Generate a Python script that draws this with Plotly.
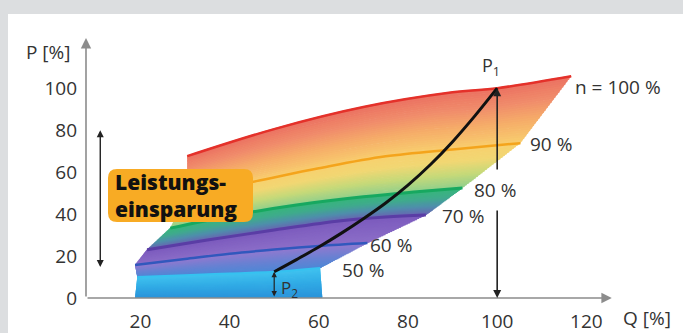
import numpy as np
import plotly.graph_objects as go

# ---------------- data ----------------
# speed curves n = const (Q in %, P in %)
q_base = [18.8, 30, 40, 50, 55, 60.8]
p_base = [0, 0, 0, 0, 0, 0]
q_50 = [19.3, 30, 40, 50, 55, 60.3]
p_50 = [10.0, 10.9, 11.7, 12.5, 13.3, 14.3]
q_60 = [18.8, 30, 40, 50, 60, 70.9]
p_60 = [15.7, 18.6, 21.1, 23.1, 24.8, 26.2]
q_70 = [21.5, 35, 50, 65, 75, 84.0]
p_70 = [23.0, 27.6, 32.4, 36.8, 38.6, 39.5]
q_80 = [26.7, 40, 55, 70, 82, 92.2]
p_80 = [33.3, 39.1, 44.3, 48.2, 50.6, 52.4]
q_90 = [30.5, 46, 60, 75, 90, 105.2]
p_90 = [49.0, 55.7, 61.8, 67.5, 70.8, 73.8]
q_100 = [30.5, 50, 70, 90, 100, 116.6]
p_100 = [67.6, 80.5, 91.0, 98.0, 100.0, 105.7]

# system curve P2 -> P1
q_sys = [50, 55, 60, 65, 70, 75, 80, 85, 90, 95, 100]
p_sys = [12.5, 18.3, 24.3, 30.8, 37.8, 45.3, 53.8, 63.5, 74.5, 86.8, 100.0]

speed_labels = ["50 %", "60 %", "70 %", "80 %", "90 %", "n = 100 %"]
x_ticks = [20, 40, 60, 80, 100, 120]
y_ticks = [0, 20, 40, 60, 80, 100]
savings_top, savings_bottom = 80, 14
point_p1 = (100, 100)
point_p2 = (50, 12.5)

# ---------------- styling ----------------
FONT = "Open Sans"
TXT = "#333333"
AXIS = "#8c8c8c"

# plot area in pixels
L, R, T, B = 86, 71, 38, 35
W, H = 683 - L - R, 333 - T - B
XPX = 4.4596   # px per % of Q
YPX = 2.0984   # px per % of P
x_range = [7.8, 7.8 + W / XPX]
y_range = [0, H / YPX]


def hex2rgb(h):
    h = h.lstrip("#")
    return np.array([int(h[i:i + 2], 16) for i in (0, 2, 4)], float)


def colour_at(stops, t):
    n = len(stops) - 1
    pos = t * n
    i = min(int(pos), n - 1)
    f = pos - i
    c = hex2rgb(stops[i]) * (1 - f) + hex2rgb(stops[i + 1]) * f
    return "rgb(%d,%d,%d)" % tuple(np.round(c))


fig = go.Figure()

bands = [
    (q_base, p_base, q_50, p_50, ["#2a93da", "#30aae5", "#40c3ef"]),
    (q_50, p_50, q_60, p_60, ["#4c88d6", "#6c80d2", "#9479cf"]),
    (q_60, p_60, q_70, p_70, ["#8c6ec8", "#7b5abd"]),
    (q_70, p_70, q_80, p_80, ["#6a62b2", "#4e8fab", "#3fac8b", "#37b67a"]),
    (q_80, p_80, q_90, p_90, ["#90cf8b", "#c6d979", "#f1d773", "#f8d06e"]),
    (q_90, p_90, q_100, p_100, ["#f8cd6e", "#f6ae69", "#f08c6b", "#eb7061"]),
]
N = 26
for ql, pl, qu, pu, stops in bands:
    ql, pl, qu, pu = map(lambda a: np.asarray(a, float), (ql, pl, qu, pu))
    for i in range(N + 1):
        t = i / N
        q = ql + (qu - ql) * t
        p = pl + (pu - pl) * t
        if i == 0:
            fig.add_trace(go.Scatter(x=q, y=p, mode="lines",
                                     line=dict(width=0, shape="spline"),
                                     hoverinfo="skip", showlegend=False))
        else:
            c = colour_at(stops, (i - 0.5) / N)
            fig.add_trace(go.Scatter(x=q, y=p, mode="lines",
                                     line=dict(width=1.5, color=c, shape="spline"),
                                     fill="tonexty", fillcolor=c,
                                     hoverinfo="skip", showlegend=False))

curve_styles = [
    (q_50, p_50, "#35c2f0", 2),
    (q_60, p_60, "#3158bd", 2.5),
    (q_70, p_70, "#5a3da5", 3),
    (q_80, p_80, "#17a860", 3),
    (q_90, p_90, "#f4a41c", 2.5),
    (q_100, p_100, "#e4312a", 2.5),
]
for q, p, col, w in curve_styles:
    fig.add_trace(go.Scatter(x=q, y=p, mode="lines",
                             line=dict(color=col, width=w, shape="spline"),
                             hoverinfo="skip", showlegend=False))

fig.add_trace(go.Scatter(x=q_sys, y=p_sys, mode="lines",
                         line=dict(color="#111111", width=3, shape="spline"),
                         hoverinfo="skip", showlegend=False))

ann = []


def arrow(x, y, ax, ay, both=False, color="#222222", width=1.4, size=1.0, head=2):
    ann.append(dict(x=x, y=y, ax=ax, ay=ay, xref="x", yref="y", axref="x", ayref="y",
                    text="", showarrow=True, arrowhead=head, startarrowhead=head,
                    arrowside="end+start" if both else "end",
                    arrowsize=size, startarrowsize=size,
                    arrowwidth=width, arrowcolor=color))


# axes with arrows
arrow(x_range[1] - 0.05, 0, x_range[0], 0, color=AXIS, width=1.6, size=1.3)
arrow(x_range[0], y_range[1] - 0.05, x_range[0], 0, color=AXIS, width=1.6, size=1.3)

# measurement arrows
arrow(point_p1[0], point_p1[1], point_p1[0], 60.5, width=1.6)
arrow(point_p1[0], 0, point_p1[0], 42.4, width=1.6)
arrow(point_p2[0], point_p2[1], point_p2[0], 0, both=True, width=1.2, size=0.9)
arrow(11.0, savings_top, 11.0, savings_bottom, both=True, width=1.4)

# curve labels
label_pos = [(64.8, 13.3), (71.0, 25.3), (87.2, 39.1), (94.4, 51.5), (106.9, 73.4), (117.0, 100.6)]
for txt, (x, y) in zip(speed_labels, label_pos):
    ann.append(dict(x=x, y=y, xref="x", yref="y", text=txt, showarrow=False,
                    xanchor="left", yanchor="middle",
                    font=dict(family=FONT, size=19, color=TXT)))

ann.append(dict(x=98.6, y=110.5, xref="x", yref="y", text="P<sub>1</sub>", showarrow=False,
                xanchor="center", yanchor="middle", font=dict(family=FONT, size=18, color=TXT)))
ann.append(dict(x=51.0, y=4.5, xref="x", yref="y", text="P<sub>2</sub>", showarrow=False,
                xanchor="left", yanchor="middle", font=dict(family=FONT, size=17, color=TXT)))

# box text
ann.append(dict(x=13.9, y=48.8, xref="x", yref="y", text="Leistungs-<br>einsparung",
                showarrow=False, xanchor="left", yanchor="middle", align="left",
                font=dict(family=FONT, size=21, color="#111111", weight=800)))

# axis titles (paper coords)
ann.append(dict(x=(48 - L) / W, y=(333 - B - 52) / H, xref="paper", yref="paper",
                text="P [%]", showarrow=False, xanchor="center", yanchor="middle",
                font=dict(family=FONT, size=19, color=TXT)))
ann.append(dict(x=(621 - L) / W, y=(333 - B - 318) / H, xref="paper", yref="paper",
                text="Q [%]", showarrow=False, xanchor="left", yanchor="middle",
                font=dict(family=FONT, size=19, color=TXT)))

# rounded box (pixel sizes converted to data)
x0, x1 = x_range[0] + (108 - L) / XPX, x_range[0] + (253 - L) / XPX
y1, y0 = (333 - B - 169) / YPX, (333 - B - 222) / YPX
rx, ry = 9 / XPX, 9 / YPX
box_path = (f"M{x0+rx},{y1} L{x1-rx},{y1} Q{x1},{y1} {x1},{y1-ry} "
            f"L{x1},{y0+ry} Q{x1},{y0} {x1-rx},{y0} L{x0+rx},{y0} "
            f"Q{x0},{y0} {x0},{y0+ry} L{x0},{y1-ry} Q{x0},{y1} {x0+rx},{y1} Z")

shapes = [
    dict(type="rect", xref="paper", yref="paper", layer="below",
         x0=(8 - L) / W, x1=1.3, y0=-0.3, y1=(333 - B - 14) / H,
         fillcolor="white", line=dict(width=0)),
    dict(type="path", xref="x", yref="y", path=box_path, layer="above",
         fillcolor="#f8ab24", line=dict(width=0)),
]

fig.update_layout(
    width=683, height=333,
    margin=dict(l=L, r=R, t=T, b=B, autoexpand=False),
    paper_bgcolor="#dcdee0", plot_bgcolor="rgba(0,0,0,0)",
    showlegend=False, hovermode=False,
    shapes=shapes, annotations=ann,
    xaxis=dict(range=x_range, showgrid=False, zeroline=False, showline=False,
               tickvals=x_ticks, ticktext=[str(v) for v in x_ticks],
               tickfont=dict(family=FONT, size=19, color=TXT), ticks="",
               ticklabelstandoff=10, automargin=False, fixedrange=True),
    yaxis=dict(range=y_range, showgrid=False, zeroline=False, showline=False,
               tickvals=y_ticks, ticktext=[str(v) for v in y_ticks],
               tickfont=dict(family=FONT, size=19, color=TXT), ticks="",
               ticklabelstandoff=8, automargin=False, fixedrange=True),
)

fig.write_html("out.html",
               config={"displayModeBar": False},
               post_script="document.body.style.margin='0';"
                           "document.body.style.overflow='hidden';")
